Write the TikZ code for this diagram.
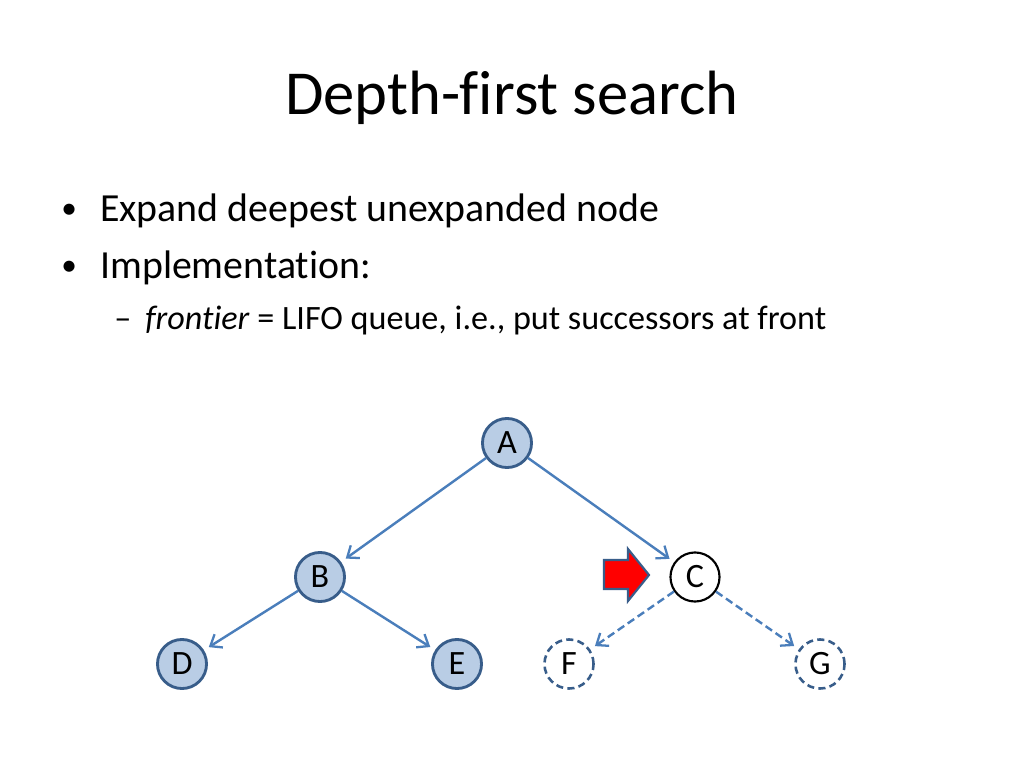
\documentclass[tikz,border=0pt]{standalone}
\usepackage{fontspec}
\setmainfont{Carlito}[Ligatures=NoCommon]
\usetikzlibrary{arrows.meta}
\definecolor{nodefill}{HTML}{B9CDE5}
\definecolor{nodeline}{HTML}{385D8A}
\definecolor{edgeblue}{HTML}{4A7EBB}
\tikzset{
  px/.style={x=0.703125pt,y=-0.703125pt},
  treenode/.style={circle,minimum size=34.5pt,inner sep=0pt,font=\fontsize{24}{28}\selectfont},
  visited/.style={treenode,draw=nodeline,fill=nodefill,line width=2pt},
  current/.style={treenode,draw=black,fill=white,line width=1.5pt},
  unseen/.style={treenode,draw=nodeline,fill=white,line width=1.8pt,dash pattern=on 5pt off 3pt},
  edge/.style={draw=edgeblue,line width=1.7pt,-{Straight Barb[length=7pt,width=11pt,line width=1.6pt]},shorten >=4pt},
  dedge/.style={edge,dash pattern=on 5.5pt off 3pt},
  bodytext/.style={anchor=base west,inner sep=0pt},
}
\begin{document}
\begin{tikzpicture}[px]
\fill[white] (0,0) rectangle (1024,768);
\useasboundingbox (0,0) rectangle (1024,768);
\node[anchor=base,inner sep=0pt,font=\fontsize{44}{50}\selectfont] (title) at (512,115) {Depth-first search};
\node[bodytext,font=\fontsize{22}{24}\selectfont] (b1m) at (61,219) {•};
\node[bodytext,font=\fontsize{28}{32}\selectfont] (b1) at (100,222) {Expand deepest unexpanded node};
\node[bodytext,font=\fontsize{22}{24}\selectfont] (b2m) at (61,276) {•};
\node[bodytext,font=\fontsize{28}{32}\selectfont] (b2) at (100,279) {Implementation:};
\node[bodytext,font=\fontsize{24}{28}\selectfont] (s1m) at (114,329) {–};
\node[bodytext,font=\fontsize{24}{28}\selectfont] (s1) at (145,329) {\textit{frontier} = LIFO queue, i.e., put successors at front};

\node[visited] (A) at (507,443) {A};
\node[visited] (B) at (320,577) {B};
\node[current] (C) at (695,577) {C};
\node[visited] (D) at (182,664) {D};
\node[visited] (E) at (457,664) {E};
\node[unseen] (F) at (569,664) {F};
\node[unseen] (G) at (820,664) {G};

\draw[edge] (A) -- (B);
\draw[edge] (A) -- (C);
\draw[edge] (B) -- (D);
\draw[edge] (B) -- (E);
\draw[dedge] (C) -- (F);
\draw[dedge] (C) -- (G);

\draw[draw=nodeline,fill=red,line width=1.5pt,line join=miter]
  (604,560) -- (628,560) -- (628,549) -- (649,575) -- (628,601) -- (628,589) -- (604,589) -- cycle;
\end{tikzpicture}
\end{document}
